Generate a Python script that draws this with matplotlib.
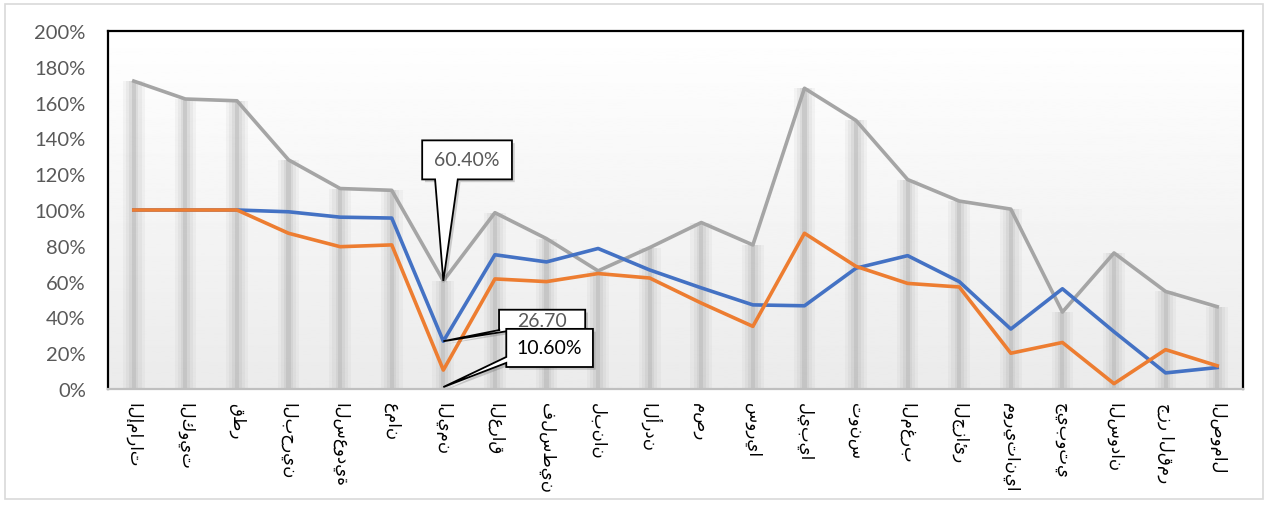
import numpy as np
import matplotlib
matplotlib.use("Agg")
import matplotlib.pyplot as plt
from matplotlib.patches import Polygon, Rectangle
from matplotlib import patheffects as pe

countries = ["الإمارات", "الكويت", "قطر", "البحرين", "السعودية", "عمان",
             "اليمن", "العراق", "فلسطين", "لبنان", "الأردن", "مصر", "سوريا",
             "ليبيا", "تونس", "المغرب", "الجزائر", "موريتانيا", "جيبوتي",
             "السودان", "جزر القمر", "الصومال"]
blue = [100, 100, 100, 99, 96, 95.5, 26.7, 75, 71, 78.5, 66.5, 56.5, 47,
        46.5, 67.5, 74.5, 60, 33.5, 56, 32, 9, 12]
orange = [100, 100, 100, 87, 79.5, 80.5, 10.6, 61.5, 60, 64.5, 62, 48, 35,
          87, 68.5, 59, 57, 20, 26, 3, 22, 13]
gray = [172, 162, 161, 128, 112, 111, 60.4, 98.5, 84, 66, 79, 93, 80.5,
        168, 150, 117, 105, 100.5, 43, 76, 54.5, 46]
yticks = list(range(0, 201, 20))

BLUE, ORANGE, GRAY = "#4472C4", "#ED7D31", "#A5A5A5"
TXT = "#595959"

fig = plt.figure(figsize=(12.69, 5.06), dpi=100)
ax = fig.add_axes([0.0851, 0.2292, 0.8944, 0.7076])
x = np.arange(len(countries))

# plot-area background: soft vertical gradient
grad = np.linspace(0.92, 1.0, 256).reshape(-1, 1)
ax.imshow(grad, cmap="gray", vmin=0, vmax=1, aspect="auto",
          extent=(-0.5, len(countries) - 0.5, 0, 200), origin="lower",
          zorder=0)

# soft grey columns under the grey series
for w, a in [(0.42, 0.12), (0.30, 0.16), (0.18, 0.24), (0.08, 0.45)]:
    ax.bar(x, gray, width=w, color="#b5b5b5", alpha=a, lw=0, zorder=1)

ax.plot(x, gray, color=GRAY, lw=2.6, zorder=3, solid_joinstyle="round")
ax.plot(x, blue, color=BLUE, lw=2.6, zorder=4, solid_joinstyle="round")
ax.plot(x, orange, color=ORANGE, lw=2.6, zorder=5, solid_joinstyle="round")

ax.set_xlim(-0.5, len(countries) - 0.5)
ax.set_ylim(0, 200)
ax.set_yticks(yticks)
ax.set_yticklabels([f"{v}%" for v in yticks], fontsize=14.5, color=TXT,
                   family="Lato")
ax.set_xticks(x)
ax.set_xticklabels(countries, rotation=-90, fontsize=12, color="black",
                   family=["DejaVu Sans"], va="top", ha="center")
ax.tick_params(axis="y", length=0, pad=16)
ax.tick_params(axis="x", length=0, pad=9)
for s in ("left", "top", "right"):
    ax.spines[s].set_color("black")
    ax.spines[s].set_linewidth(1.6)
ax.spines["bottom"].set_color("#bfbfbf")
ax.spines["bottom"].set_linewidth(1.6)

shadow = [pe.SimplePatchShadow(offset=(2, -2), alpha=0.25), pe.Normal()]


def callout(verts, tx, ty, label, color, z, fs=14):
    ax.add_patch(Polygon(verts, closed=True, fc="white", ec="black", lw=1.3,
                         zorder=z, clip_on=False, path_effects=shadow))
    ax.text(tx, ty, label, ha="center", va="center", fontsize=fs,
            color=color, family="Lato", zorder=z + 0.1, clip_on=True)


# 60.40% callout pointing at Yemen (grey)
callout([(5.59, 138.9), (7.33, 138.9), (7.33, 117.1), (6.28, 117.1),
         (6, gray[6]), (5.84, 117.1), (5.59, 117.1)],
        6.46, 128.2, "60.40%", TXT, 10)
# 26.70 callout (partly hidden)
callout([(7.08, 44.3), (8.75, 44.3), (8.75, 33.05), (7.40, 33.05),
         (6, blue[6]), (7.10, 33.05), (7.08, 33.05)],
        7.92, 38.0, "26.70", TXT, 11)
# 10.60% callout
callout([(7.22, 33.6), (8.90, 33.6), (8.90, 12.3), (7.22, 12.3),
         (7.22, 14.6), (6, 1.1), (7.22, 17.9)],
        8.06, 23.0, "10.60%", "black", 12)

fig.patches.append(Rectangle((0.004, 0.012), 0.991, 0.978,
                             transform=fig.transFigure, fill=False,
                             ec="#d9d9d9", lw=1.2))
fig.savefig("out.png", dpi=100, facecolor="white")
